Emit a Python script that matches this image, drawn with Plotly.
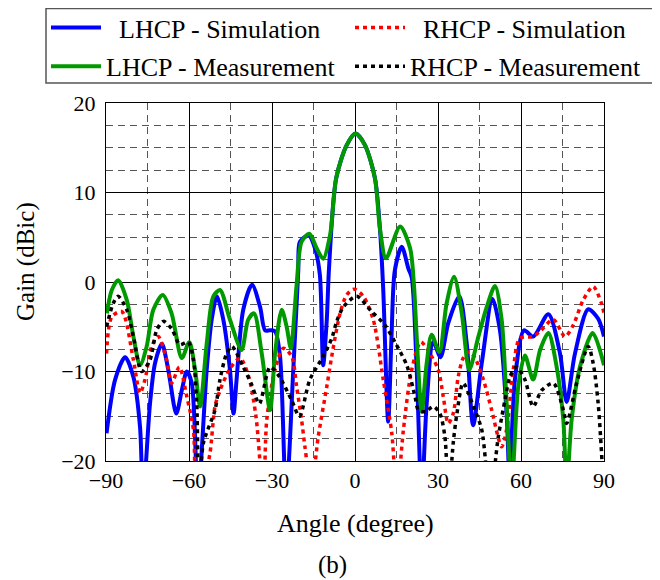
import plotly.graph_objects as go

# LHCP - Simulation
lhcp_sim_ang = [-89.8, -86.7, -83.1, -80.1, -77.7, -76.6, -74.1, -72.3, -69.8, -67.5, -64.6, -62.6, -60.8,
                -59.0, -56.8, -53.6, -51.8, -49.9, -47.6, -45.2, -43.9, -42.8, -40.4, -37.2, -34.3, -32.5,
                -30.7, -28.9, -27.1, -24.9, -22.3, -20.5, -19.9, -16.7, -14.5, -12.7, -11.5, -10.2, -9.4,
                -6.8, -3.0, 0.2, 3.6, 7.2, 9.0, 10.2, 12.0, 13.2, 14.4, 16.9, 19.3, 20.5, 22.3, 24.1,
                25.9, 28.3, 30.9, 33.7, 37.7, 40.4, 42.7, 45.8, 49.7, 52.4, 54.8, 55.9, 57.8, 61.1, 64.4,
                69.9, 74.1, 76.5, 79.5, 84.3, 87.9, 90.0]
lhcp_sim_gain = [-16.9, -10.9, -8.4, -10.6, -16.2, -24.0, -13.6, -9.1, -6.9, -9.8, -14.7, -12.1, -10.0,
                 -11.3, -24.0, -9.8, -4.2, -1.6, -4.2, -9.8, -14.7, -10.9, -3.1, -0.3, -2.8, -5.4,
                 -5.4, -5.5, -8.3, -24.0, -9.8, 1.3, 4.5, 5.2, 3.8, 0.8, -9.3, -4.2, 1.5,
                 11.6, 15.3, 16.6, 15.3, 11.6, 6.0, -0.8, -15.6, -6.1, 1.3, 3.95, 1.5, 0.5, -9.8, -24.0,
                 -13.6, -6.7, -8.4, -4.6, -1.6, -6.9, -16.0, -9.1, -1.9, -5.4, -14.7, -22.0, -10.9, -5.4, -6.1,
                 -3.6, -8.0, -13.4, -8.0, -3.05, -4.1, -6.1]

# RHCP - Simulation
rhcp_sim_ang = [-89.8, -87.9, -84.3, -80.1, -77.7, -75.9, -73.5, -71.1, -68.1, -66.3, -63.5, -60.8, -58.4,
                -57.2, -54.5, -52.4, -50.6, -48.8, -45.0, -41.5, -38.5, -35.8, -33.1, -31.9, -28.9, -25.9,
                -22.9, -21.1, -19.3, -18.1, -15.8, -13.3, -10.2, -8.4, -5.4, -3.0, -0.3, 3.0, 6.6, 10.2,
                13.3, 15.1, 17.5, 20.5, 23.8, 27.1, 30.1, 31.9, 33.7, 35.5, 37.3, 39.1, 41.3, 43.4, 46.4,
                49.4, 53.0, 54.8, 57.2, 59.6, 64.4, 66.9, 71.7, 75.9, 78.9, 82.5, 86.1, 89.1, 90.0]
rhcp_sim_gain = [-8.0, -3.9, -3.3, -8.7, -12.4, -10.9, -7.2, -6.1, -8.7, -11.3, -9.5, -12.8, -16.5,
                 -24.0, -22.0, -19.1, -13.9, -12.1, -9.6, -8.5, -10.5, -15.0, -24.0, -15.4, -9.8, -7.4,
                 -8.3, -11.7, -15.4, -18.4, -23.0, -17.3, -11.7, -8.3, -3.5, -1.45, -0.8, -1.6, -4.2, -10.9,
                 -16.9, -24.0, -16.5, -9.8, -6.7, -8.0, -9.8, -12.8, -15.8, -14.7, -10.6, -8.5, -7.8, -8.5, -10.9,
                 -14.3, -18.4, -16.5, -9.8, -6.3, -6.1, -5.5, -4.2, -6.1, -4.8, -2.0, -0.5, -2.4, -3.5]

# LHCP - Measurement
lhcp_meas_ang = [-89.7, -87.9, -85.6, -82.5, -80.1, -77.7, -75.3, -72.9, -69.5, -66.3, -62.6, -59.9, -57.8,
                 -56.0, -53.6, -51.2, -48.8, -45.2, -41.0, -38.6, -36.5, -33.7, -30.7, -28.9, -26.5, -24.7,
                 -23.2, -21.1, -19.3, -16.5, -13.9, -11.5, -9.0, -6.8, -3.0, 0.2, 3.6, 7.2, 9.0, 11.2,
                 16.3, 19.9, 21.3, 22.3, 24.1, 25.9, 27.7, 30.5, 33.1, 35.8, 38.6, 41.3, 44.6, 47.6, 50.6,
                 53.0, 54.8, 56.6, 59.0, 61.4, 64.4, 66.9, 69.9, 72.9, 75.3, 76.5, 78.3, 81.3, 85.9, 90.0]
lhcp_meas_gain = [-3.5, -0.9, 0.2, -2.0, -6.1, -9.3, -7.2, -3.1, -1.45, -3.5, -8.5, -6.7, -9.8,
                  -13.9, -6.9, -1.6, -0.9, -4.2, -7.6, -4.2, -3.5, -8.0, -14.3, -8.0, -3.1, -5.0,
                  -7.4, -0.3, 4.5, 5.4, 3.8, 2.6, 5.25, 11.6, 15.3, 16.6, 15.3, 11.6, 6.0, 2.65,
                  6.2, 3.8, -0.3, -6.1, -14.5, -9.1, -5.9, -7.8, -2.4, 0.6, -3.5, -9.8, -6.1, -2.8, -0.45,
                  -4.2, -13.6, -23.0, -11.7, -8.2, -10.9, -7.6, -5.7, -9.5, -15.4, -23.0, -15.4, -9.5, -5.7, -9.3]

# RHCP - Measurement
rhcp_meas_ang = [-89.8, -87.4, -85.6, -82.5, -80.1, -77.1, -74.1, -71.7, -69.3, -66.3, -63.3, -60.3, -58.4,
                 -57.2, -56.4, -54.8, -50.6, -48.8, -46.4, -44.5, -40.4, -37.3, -34.6, -30.7, -27.7, -22.9,
                 -20.1, -16.3, -11.5, -8.4, -6.6, -4.2, 0.6, 6.0, 10.8, 14.4, 18.7, 21.7, 22.9, 25.5,
                 28.3, 30.7, 32.5, 33.8, 35.5, 36.7, 39.1, 42.8, 45.8, 48.8, 51.8, 54.2, 56.0, 58.4, 61.4,
                 64.4, 67.5, 71.7, 75.3, 76.5, 80.1, 84.3, 86.1, 87.9, 90.0]
rhcp_meas_gain = [-5.0, -2.4, -1.6, -3.1, -6.1, -10.0, -8.7, -5.4, -4.4, -5.2, -7.0, -6.7, -8.7,
                  -13.6, -24.0, -18.0, -14.3, -10.9, -8.0, -7.2, -9.5, -11.5, -13.6, -9.5, -10.4, -13.2,
                  -15.0, -10.9, -8.3, -6.3, -4.4, -2.8, -1.6, -3.3, -4.8, -6.7, -9.3, -12.8, -14.3, -14.5,
                  -13.9, -14.7, -17.3, -24.0, -18.0, -15.0, -11.3, -13.9, -16.5, -24.0, -17.3, -13.2, -10.6, -9.5, -10.9,
                  -13.9, -12.1, -11.3, -14.3, -15.8, -11.3, -7.2, -9.1, -13.6, -24.0]

x_ticks = [-90, -60, -30, 0, 30, 60, 90]
x_ticktext = ["\u221290", "\u221260", "\u221230", "0", "30", "60", "90"]
y_ticks = [-20, -10, 0, 10, 20]
y_ticktext = ["\u221220", "\u221210", "0", "10", "20"]

FONT = "Liberation Serif"
OFF = 8  # page body margin
W, H = 660 - OFF, 580 - OFF
L, T = 106 - OFF, 103 - OFF
R = W - (604 - OFF)
B = H - (461 - OFF)
PW, PH = W - L - R, H - T - B


def px_x(p):
    return (p - OFF - L) / PW


def px_y(p):
    return (H - B - (p - OFF)) / PH


NB = "\u00a0\u00a0"
fig = go.Figure()
fig.add_trace(go.Scatter(x=lhcp_sim_ang, y=lhcp_sim_gain, mode="lines", name=NB + "LHCP - Simulation",
                         legend="legend", legendgroup="a", legendrank=1,
                         line=dict(color="#0000ff", width=4, shape="spline", smoothing=0.8)))
fig.add_trace(go.Scatter(x=rhcp_sim_ang, y=rhcp_sim_gain, mode="lines", name=NB + "RHCP - Simulation",
                         legend="legend2", legendgroup="c", legendrank=1,
                         line=dict(color="#ff0000", width=3.5, dash="4px,4px", shape="spline", smoothing=0.8)))
fig.add_trace(go.Scatter(x=lhcp_meas_ang, y=lhcp_meas_gain, mode="lines", name="LHCP - Measurement",
                         legend="legend", legendgroup="b", legendrank=2,
                         line=dict(color="#009900", width=4, shape="spline", smoothing=0.8)))
fig.add_trace(go.Scatter(x=rhcp_meas_ang, y=rhcp_meas_gain, mode="lines", name="RHCP - Measurement",
                         legend="legend2", legendgroup="d", legendrank=2,
                         line=dict(color="#000000", width=3.5, dash="4px,4px", shape="spline", smoothing=0.8)))

leg_common = dict(orientation="v", xref="container", yref="paper", xanchor="left", yanchor="top",
                  bgcolor="rgba(0,0,0,0)", borderwidth=0, font=dict(family=FONT, size=26),
                  itemwidth=50, tracegroupgap=2)

fig.update_layout(
    width=W, height=H,
    margin=dict(l=L, r=R, t=T, b=B, autoexpand=False),
    plot_bgcolor="white", paper_bgcolor="white",
    font=dict(family=FONT, size=22, color="black"),
    showlegend=True,
    legend=dict(x=(46 - OFF) / W, y=px_y(4), **leg_common),
    legend2=dict(x=(350 - OFF) / W, y=px_y(4), **leg_common),
    xaxis=dict(range=[-90, 90], tickvals=x_ticks, ticktext=x_ticktext, showgrid=True,
               gridcolor="black", gridwidth=1, zeroline=False, showline=True, linecolor="black",
               linewidth=1, mirror=True, ticks="", ticklabelstandoff=0, tickfont=dict(size=22),
               minor=dict(dtick=15, tick0=-90, showgrid=True, gridcolor="#555555", griddash="7px,5px", gridwidth=1)),
    yaxis=dict(range=[-20, 20], tickvals=y_ticks, ticktext=y_ticktext, showgrid=True,
               gridcolor="black", gridwidth=1, zeroline=False, showline=True, linecolor="black",
               linewidth=1, mirror=True, ticks="", ticklabelstandoff=5, tickfont=dict(size=22),
               minor=dict(dtick=2.5, tick0=-20, showgrid=True, gridcolor="#555555", griddash="7px,5px", gridwidth=1)),
    shapes=[dict(type="rect", xref="paper", yref="paper", x0=px_x(46), x1=px_x(655), y0=px_y(83), y1=px_y(8.5),
                 line=dict(color="#555555", width=1.5), fillcolor="rgba(0,0,0,0)", layer="above")],
    annotations=[
        dict(text="Gain (dBic)", xref="paper", yref="paper", x=px_x(26), y=px_y(262),
             xanchor="center", yanchor="middle", textangle=-90, showarrow=False, font=dict(size=25)),
        dict(text="Angle (degree)", xref="paper", yref="paper", x=px_x(355), y=px_y(523),
             xanchor="center", yanchor="middle", showarrow=False, font=dict(size=26)),
        dict(text="(b)", xref="paper", yref="paper", x=px_x(332), y=px_y(565),
             xanchor="center", yanchor="middle", showarrow=False, font=dict(size=25)),
    ],
)

fig.write_html("out.html")
